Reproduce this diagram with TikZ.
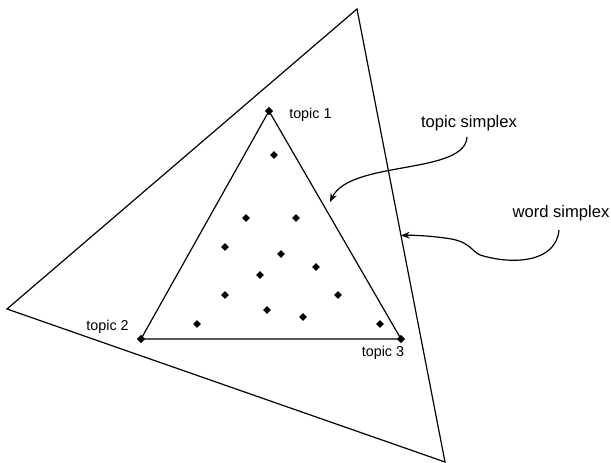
\documentclass[tikz,border=0pt]{standalone}
\usepackage{fontspec}
\setmainfont{Liberation Sans}
\usetikzlibrary{positioning, arrows.meta, shapes.geometric, calc}

\begin{document}
\begin{tikzpicture}[
    x=0.02646cm, y=-0.02646cm,
    edge/.style={line width=0.9pt},
    dot/.style={diamond, fill=black, inner sep=0pt, minimum size=6pt},
    vertexdot/.style={dot, minimum size=6.5pt},
    toplabel/.style={font=\fontsize{10.8}{12}\selectfont, inner sep=0pt},
    simplexlabel/.style={font=\fontsize{12.5}{14}\selectfont, inner sep=0pt},
    arrow/.style={-{Stealth[length=6.5pt, width=5pt]}, line width=0.9pt},
]
\useasboundingbox (0,0) rectangle (611,463);

% === Word simplex (outer) ===
\coordinate (w1) at (357,9);
\coordinate (w2) at (7,309);
\coordinate (w3) at (445,462);
\draw[edge] (w1) -- (w2) -- (w3) -- cycle;

% === Topic simplex (inner) ===
\coordinate (t1) at (269,111);
\coordinate (t2) at (141,339);
\coordinate (t3) at (401,339);
\draw[edge] (t1) -- (t2) -- (t3) -- cycle;

\node[vertexdot] (v1) at (t1) {};
\node[vertexdot] (v2) at (t2) {};
\node[vertexdot] (v3) at (t3) {};

% === Documents inside the topic simplex ===
\foreach \px/\py [count=\i] in {274/155, 246/218, 296/218, 225/247, 281/254,
    316/267, 260/275, 225/295, 338/295, 267/310, 303/317, 197/324, 380/324}
  \node[dot] (d\i) at (\px,\py) {};

% === Vertex labels ===
\node[toplabel, anchor=west] (lab1) at (289,115) {topic 1};
\node[toplabel, anchor=east] (lab2) at (129,327) {topic 2};
\node[toplabel] (lab3) at (383,353) {topic 3};

% === Simplex labels ===
\node[simplexlabel] (topiclbl) at (469,123) {topic simplex};
\node[simplexlabel] (wordlbl) at (561,213) {word simplex};

% === Pointers ===
\coordinate (tstart) at (467,137);
\coordinate (ttip) at (330,202);
\draw[arrow] (tstart) .. controls (465,175) and (350,160) .. (ttip);

\coordinate (wstart) at (559,230);
\coordinate (wtip) at ($(w1)!0.5!(w3)$);
\draw[arrow] (wstart) .. controls (556,263) and (512,265) .. (480,255)
  .. controls (470,250) and (470,241) .. (445,238)
  .. controls (430,236) and (415,235) .. (wtip);

\end{tikzpicture}
\end{document}
